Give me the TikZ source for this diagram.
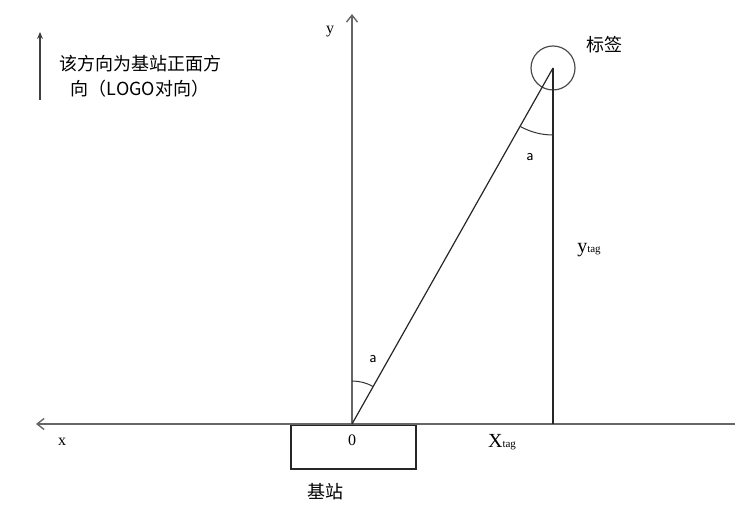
\documentclass[tikz,border=0pt]{standalone}
\usepackage{fontspec}
\setmainfont{Liberation Serif}
\newfontfamily\cjk{Noto Sans CJK SC}
\usetikzlibrary{arrows.meta,angles}
\tikzset{
  axis/.style={draw=black!60, line width=1.4pt, -{Straight Barb[length=7pt,width=11pt]}},
  edge/.style={draw=black!85, line width=1.2pt},
  lbl/.style={font=\fontsize{16}{16}\selectfont},
  zh/.style={font=\cjk\fontsize{18}{25}\selectfont},
}
\begin{document}
\begin{tikzpicture}[x=1pt,y=1pt]
  \useasboundingbox (0,0) rectangle (751,508);
  % axes and points
  \coordinate (O) at (352,84);
  \coordinate (T) at (553,440);
  \coordinate (xend) at (36,84);
  \coordinate (xfar) at (735,84);
  \coordinate (yend) at (352,494);
  \coordinate (foot) at (553,84);
  \coordinate (d0) at (40,408);
  \coordinate (d1) at (40,476);
  \node[circle, draw=black!70, line width=1.2pt, minimum size=44pt, inner sep=0pt] (tag) at (T) {};
  \node[draw=black!85, line width=1.2pt, minimum width=125pt, minimum height=44pt, inner sep=0pt] (base) at (353.5,61) {};
  % labels
  \node[lbl] (ylab) at (330,476) {y};
  \node[lbl] (xlab) at (62,66) {x};
  \node[lbl] (olab) at (352,68) {0};
  \node[lbl, font=\sffamily\fontsize{16}{16}\selectfont] (a1) at (373,149) {a};
  \node[lbl, font=\sffamily\fontsize{16}{16}\selectfont] (a2) at (530,351) {a};
  \node[lbl] (xtag) at (502,66) {{\fontsize{20}{20}\selectfont X}{\fontsize{11}{11}\selectfont tag}};
  \node[lbl] (ytag) at (589,258) {{\fontsize{20}{20}\selectfont y}{\fontsize{11}{11}\selectfont tag}};
  \node[zh] (taglab) at (604,463) {标签};
  \node[zh] (baselab) at (325,16) {基站};
  \node[zh, align=center] (note) at (140,432) {该方向为基站正面方\\向（LOGO对向）};
  % lines
  \draw[axis] (xfar) -- (xend);
  \draw[axis] (O) -- (yend);
  \draw[edge] (O) -- (T);
  \draw[edge] (T) -- (foot);
  \draw[black!75, line width=1.3pt, -{Stealth[length=7pt,width=6pt]}] (d0) -- (d1);
  \pic[draw=black!80, line width=1pt, angle radius=43pt] {angle = T--O--yend};
  \pic[draw=black!80, line width=1pt, angle radius=67pt] {angle = O--T--foot};
\end{tikzpicture}
\end{document}
